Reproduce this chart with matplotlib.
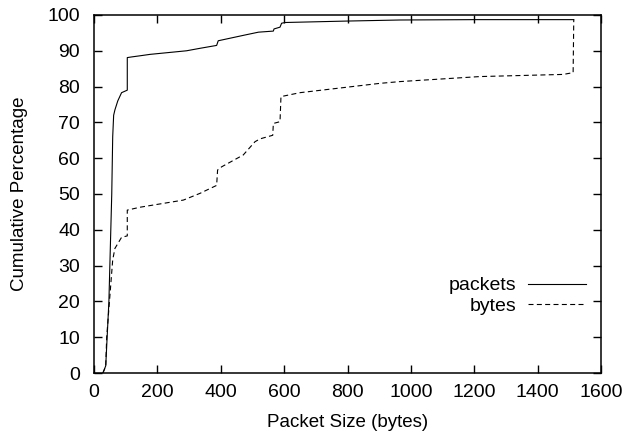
import matplotlib
matplotlib.use('Agg')
import matplotlib.pyplot as plt

# CDF of packet sizes, by packet count and by byte volume
packets_size = [28, 37, 47, 56, 59, 62, 66, 75, 87, 105, 105, 120, 145, 177,
                292, 335, 387, 392, 476, 519, 566, 568, 587, 592, 603, 797,
                966, 1200, 1514]
packets_pct = [0, 2, 20, 50, 66, 72, 73.5, 76, 78.3, 79, 88.1, 88.3, 88.6, 89,
               90, 90.7, 91.5, 92.8, 94.4, 95.2, 95.5, 96.1, 96.6, 97.7, 97.9,
               98.3, 98.6, 98.7, 98.7]

bytes_size = [28, 37, 40, 50.5, 59, 66, 87, 105, 105, 145, 282, 335, 356, 387,
              390, 403, 471, 508, 524, 564, 566, 587, 590, 650, 902, 966, 1218,
              1481, 1512, 1514]
bytes_pct = [0, 1.8, 10, 22, 31.6, 34.8, 37.9, 38.3, 45.5, 46.3, 48.3, 50.2,
             51.1, 52.4, 56.7, 57.6, 60.9, 64.6, 65.4, 66.4, 69.7, 70.2, 77.2,
             78.3, 80.9, 81.4, 82.8, 83.4, 83.9, 98.7]

plt.rcParams['font.family'] = ['Liberation Sans', 'DejaVu Sans']

fig = plt.figure(figsize=(6.43, 4.42), dpi=100)
ax = fig.add_axes([0.1462, 0.1561, 0.7885, 0.81])

ax.plot(packets_size, packets_pct, color='black', lw=0.8, label='packets')
ax.plot(bytes_size, bytes_pct, color='black', lw=0.8, linestyle=(0, (4.5, 3)),
        label='bytes')

ax.set_xlim(0, 1600)
ax.set_ylim(0, 100)
ax.set_xticks(range(0, 1601, 200))
ax.set_yticks(range(0, 101, 10))
ax.tick_params(direction='in', top=True, right=True, length=5.5, width=1,
               labelsize=14)
ax.tick_params(axis='y', pad=10)
ax.tick_params(axis='x', pad=8)
for s in ax.spines.values():
    s.set_linewidth(1.1)

ax.set_xlabel('Packet Size (bytes)', fontsize=13.5, labelpad=9)
ax.set_ylabel('Cumulative Percentage', fontsize=13.5, labelpad=14)

ax.legend(loc='lower right', bbox_to_anchor=(0.99, 0.135), frameon=False,
          markerfirst=False, fontsize=14, handlelength=3.0, handletextpad=0.6,
          labelspacing=0.15, borderpad=0)

fig.savefig('out.png', dpi=100)
